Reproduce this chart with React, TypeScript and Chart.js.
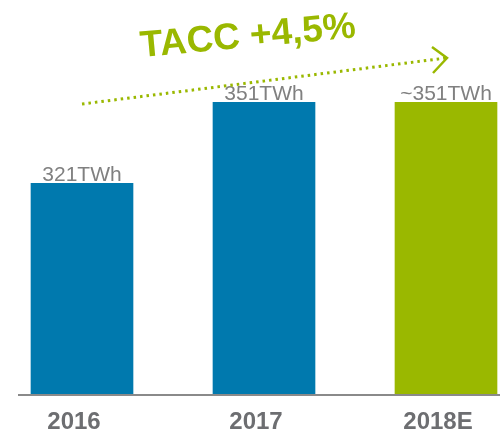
import React, { useEffect, useRef } from "react";
import { Chart, registerables } from "chart.js";

Chart.register(...registerables);

const categories = ["2016", "2017", "2018E"];
const values = [321, 351, 351];
const valueLabels = ["321TWh", "351TWh", "~351TWh"];
const barColors = ["#0079AE", "#0079AE", "#9AB800"];
const titleText = "TACC +4,5%";
const Y_MIN = 243;
const Y_MAX = 370;

const GREEN = "#9AB800";
const GRAY = "#808080";

const overlayPlugin = {
  id: "overlay",
  afterDatasetsDraw(chart: any) {
    const ctx = chart.ctx;
    const meta = chart.getDatasetMeta(0);
    ctx.save();
    ctx.font = "21px 'Liberation Sans', Arial, sans-serif";
    ctx.fillStyle = GRAY;
    ctx.textAlign = "center";
    ctx.textBaseline = "alphabetic";
    meta.data.forEach((bar: any, i: number) => {
      ctx.fillText(valueLabels[i], bar.x, bar.y - 2);
    });
    ctx.restore();
  },
  afterDraw(chart: any) {
    const ctx = chart.ctx;
    const yScale = chart.scales.y;
    const base = yScale.getPixelForValue(yScale.min);
    ctx.save();
    // axis line
    ctx.strokeStyle = "#8a8a8a";
    ctx.lineWidth = 2;
    ctx.beginPath();
    ctx.moveTo(18, base + 1);
    ctx.lineTo(chart.width, base + 1);
    ctx.stroke();

    // dotted arrow
    ctx.strokeStyle = GREEN;
    ctx.lineWidth = 3;
    ctx.setLineDash([2.5, 4]);
    ctx.beginPath();
    ctx.moveTo(82, 104);
    ctx.lineTo(446, 58);
    ctx.stroke();
    ctx.setLineDash([]);
    ctx.lineWidth = 2.5;
    ctx.beginPath();
    ctx.moveTo(432, 47);
    ctx.lineTo(447, 58);
    ctx.lineTo(433, 73);
    ctx.stroke();

    // title
    ctx.translate(248, 37);
    ctx.rotate((-5.2 * Math.PI) / 180);
    ctx.fillStyle = GREEN;
    ctx.font = "bold 37px 'Liberation Sans', Arial, sans-serif";
    ctx.textAlign = "center";
    ctx.textBaseline = "middle";
    ctx.fillText(titleText, 0, 0);
    ctx.restore();
  },
};

export default function App() {
  const canvasRef = useRef<HTMLCanvasElement | null>(null);

  useEffect(() => {
    document.body.style.margin = "0";
    const canvas = canvasRef.current;
    if (!canvas) return;
    const chart = new Chart(canvas, {
      type: "bar",
      data: {
        labels: categories,
        datasets: [
          {
            data: values,
            backgroundColor: barColors,
            borderWidth: 0,
            barThickness: 102,
            base: Y_MIN,
            clip: { left: false, right: false, top: 0, bottom: 0 } as any,
          },
        ],
      },
      options: {
        responsive: false,
        animation: false,
        layout: { padding: { top: 51, left: 82, right: 54, bottom: 0 } },
        plugins: {
          legend: { display: false },
          tooltip: { enabled: false },
          title: { display: false },
        },
        scales: {
          x: {
            offset: false,
            grid: { display: false, drawTicks: false },
            border: { display: false },
            ticks: {
              color: "#6d6e71",
              font: { family: "'Liberation Sans', Arial, sans-serif", size: 24, weight: "bold" },
              padding: 14,
              labelOffset: -8,
              maxRotation: 0,
              autoSkip: false,
            },
            afterFit: (scale: any) => {
              scale.height = 36;
            },
          },
          y: {
            display: false,
            min: Y_MIN,
            max: Y_MAX,
          },
        },
      },
      plugins: [overlayPlugin],
    });
    return () => chart.destroy();
  }, []);

  return (
    <div style={{ width: 500, height: 430 }}>
      <canvas ref={canvasRef} width={500} height={430} />
    </div>
  );
}
